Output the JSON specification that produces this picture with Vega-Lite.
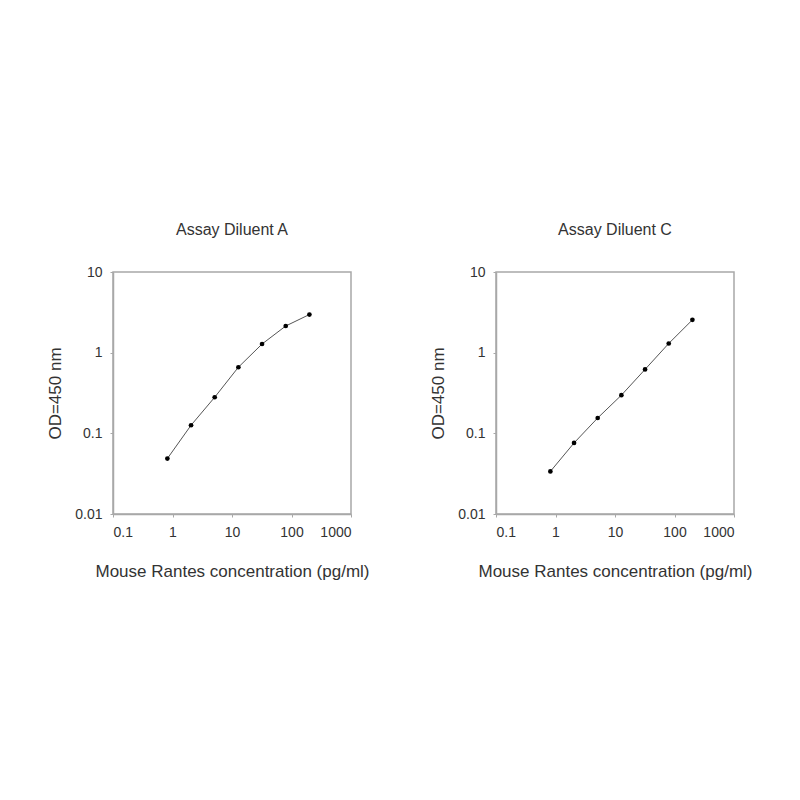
{
  "$schema": "https://vega.github.io/schema/vega-lite/v6.json",
  "background": "white",
  "padding": {"left": 46, "top": 221, "right": 0, "bottom": 0},
  "datasets": {
    "A": [
      {"conc": 0.82, "od": 0.0487},
      {"conc": 2.05, "od": 0.126},
      {"conc": 5.12, "od": 0.28},
      {"conc": 12.8, "od": 0.66},
      {"conc": 32, "od": 1.28},
      {"conc": 80, "od": 2.14},
      {"conc": 200, "od": 2.97}
    ],
    "C": [
      {"conc": 0.82, "od": 0.0337},
      {"conc": 2.05, "od": 0.076},
      {"conc": 5.12, "od": 0.155},
      {"conc": 12.8, "od": 0.297},
      {"conc": 32, "od": 0.62},
      {"conc": 80, "od": 1.3},
      {"conc": 200, "od": 2.55}
    ]
  },
  "config": {
    "font": "Liberation Sans",
    "view": {"stroke": "#a8a8a8", "strokeWidth": 1.5},
    "title": {"fontSize": 16, "fontWeight": "normal", "color": "#333333", "offset": 27},
    "axis": {
      "grid": false,
      "domainColor": "#a8a8a8",
      "domainWidth": 1.5,
      "tickColor": "#a8a8a8",
      "tickSize": 3,
      "labelFontSize": 14,
      "labelColor": "#333333",
      "titleFontSize": 17,
      "titleFontWeight": "normal",
      "titleColor": "#333333"
    }
  },
  "spacing": 59,
  "hconcat": [
    {
      "title": "Assay Diluent A",
      "width": 238,
      "height": 242,
      "data": {"name": "A"},
      "encoding": {
        "x": {"field": "conc", "type": "quantitative", "scale": {"type": "log", "domain": [0.1, 1000]}, "axis": {"values": [0.1, 1, 10, 100, 1000], "format": "~g", "title": "Mouse Rantes concentration (pg/ml)", "labelPadding": 8, "titlePadding": 24}},
        "y": {"field": "od", "type": "quantitative", "scale": {"type": "log", "domain": [0.01, 10]}, "axis": {"values": [0.01, 0.1, 1, 10], "format": "~g", "title": "OD=450 nm", "labelPadding": 8, "titlePadding": 10}}
      },
      "layer": [
        {"mark": {"type": "line", "color": "#555555", "strokeWidth": 1}},
        {"mark": {"type": "point", "filled": true, "color": "#000000", "size": 22, "opacity": 1}}
      ]
    },
    {
      "title": "Assay Diluent C",
      "width": 238,
      "height": 242,
      "data": {"name": "C"},
      "encoding": {
        "x": {"field": "conc", "type": "quantitative", "scale": {"type": "log", "domain": [0.1, 1000]}, "axis": {"values": [0.1, 1, 10, 100, 1000], "format": "~g", "title": "Mouse Rantes concentration (pg/ml)", "labelPadding": 8, "titlePadding": 24}},
        "y": {"field": "od", "type": "quantitative", "scale": {"type": "log", "domain": [0.01, 10]}, "axis": {"values": [0.01, 0.1, 1, 10], "format": "~g", "title": "OD=450 nm", "labelPadding": 8, "titlePadding": 10}}
      },
      "layer": [
        {"mark": {"type": "line", "color": "#555555", "strokeWidth": 1}},
        {"mark": {"type": "point", "filled": true, "color": "#000000", "size": 22, "opacity": 1}}
      ]
    }
  ]
}
